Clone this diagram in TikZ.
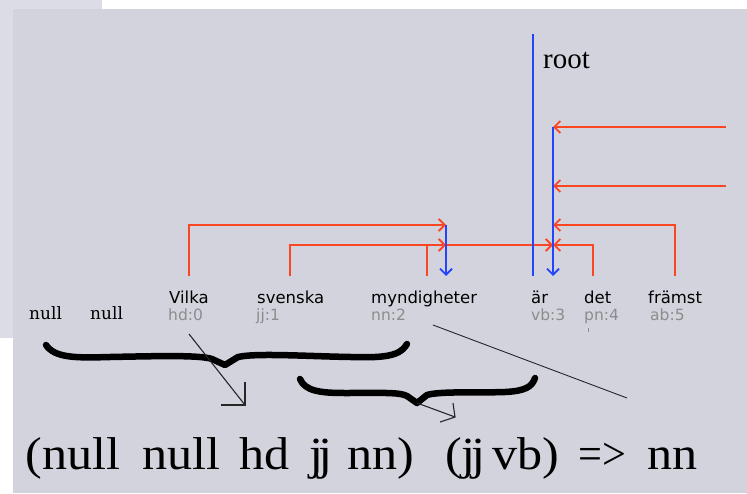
\documentclass[tikz,border=0pt]{standalone}
\usepackage{fontspec}
\setmainfont{Liberation Serif}
\newfontfamily\wordfont{DejaVu Sans}
\newfontfamily\nullwfont{DejaVu Serif}
\newfontfamily\formfont{Liberation Serif}
\usetikzlibrary{arrows.meta}
\definecolor{panel}{RGB}{211,211,222}
\definecolor{panellight}{RGB}{220,220,230}
\definecolor{depred}{RGB}{250,70,35}
\definecolor{headblue}{RGB}{35,70,250}
\definecolor{taggray}{RGB}{140,140,140}
\begin{document}
\begin{tikzpicture}[x=1pt,y=-1pt,
 word/.style={anchor=base west, inner sep=0pt, font=\wordfont\fontsize{16.5}{19}\selectfont, text=black},
 tag/.style={anchor=base west, inner sep=0pt, font=\wordfont\fontsize{15.5}{18}\selectfont, text=taggray},
 nullw/.style={anchor=base west, inner sep=0pt, font=\nullwfont\fontsize{17}{20}\selectfont},
 form/.style={anchor=base west, inner sep=0pt, font=\formfont\fontsize{46}{50}\selectfont},
 rootlbl/.style={anchor=base west, inner sep=0pt, font=\formfont\fontsize{29}{32}\selectfont},
 dep/.style={draw=depred, line width=1.9pt, -{Straight Barb[length=6pt,width=12pt]}},
 headln/.style={draw=headblue, line width=1.9pt},
 headarr/.style={headln, -{Straight Barb[length=6pt,width=12pt]}},
 brace/.style={draw=black, line width=6.5pt, line cap=round, line join=round},
 pointer/.style={draw=black!85, line width=1.1pt},
]
% background
\fill[white] (0,0) rectangle (747,493);
\fill[panellight] (0,0) rectangle (102,338);
\fill[panel] (13,9) rectangle (747,493);
\useasboundingbox (0,0) rectangle (747,493);

% words
\node[nullw] (null1) at (29,319) {null};
\node[nullw] (null2) at (90,319) {null};
\node[word] (vilka) at (169,303) {Vilka};
\node[word] (svenska) at (257,303) {svenska};
\node[word] (mynd) at (371,303) {myndigheter};
\node[word] (ar) at (531,303) {är};
\node[word] (det) at (584,303) {det};
\node[word] (framst) at (648,303) {främst};
\node[tag] (t0) at (168,320) {hd:0};
\node[tag] (t1) at (256,320) {jj:1};
\node[tag] (t2) at (371,320) {nn:2};
\node[tag] (t3) at (531,320) {vb:3};
\node[tag] (t4) at (584,320) {pn:4};
\node[tag] (t5) at (650,320) {ab:5};
\node[rootlbl] (root) at (543,68) {root};

% coordinates
\coordinate (rootTop) at (533,34);
\coordinate (rootFoot) at (533,276);
\coordinate (arTop) at (553,127);
\coordinate (arFoot) at (553,276);
\coordinate (myTop) at (446,225);
\coordinate (myFoot) at (446,276);
\coordinate (offA) at (726,127);
\coordinate (offB) at (726,186);
\coordinate (arB) at (553,186);
\coordinate (arC) at (553,225);
\coordinate (arD) at (553,245);
\coordinate (myD) at (446,245);
\coordinate (vilkaFoot) at (189,276);
\coordinate (svFoot) at (290,276);
\coordinate (myndFoot) at (427,276);
\coordinate (detFoot) at (593,276);
\coordinate (frFoot) at (675,276);

% dependency arcs
\draw[dep] (offA) -- (arTop);
\draw[dep] (offB) -- (arB);
\draw[dep] (frFoot) |- (arC);
\draw[dep] (detFoot) |- (arD);
\draw[dep] (myndFoot) |- (arD);
\draw[dep] (vilkaFoot) |- (myTop);
\draw[dep] (svFoot) |- (myD);

% heads
\draw[headln] (rootTop) -- (rootFoot);
\draw[headarr] (arTop) -- (arFoot);
\draw[headarr] (myTop) -- (myFoot);

% small tick
\coordinate (tickA) at (588,328);
\coordinate (tickB) at (588,332);
\draw[taggray, line width=1pt] (tickA) -- (tickB);

% braces
\draw[brace] (46,345) .. controls (55,358) and (75,358) .. (110,357)
  .. controls (160,356) and (200,355) .. (212,359) -- (225,365) -- (238,357)
  .. controls (260,352) and (330,358) .. (375,357)
  .. controls (395,356) and (402,352) .. (407,344);
\draw[brace] (300,379) .. controls (305,391) and (320,393) .. (345,393)
  .. controls (380,393) and (400,392) .. (407,396) -- (417,403) -- (427,395)
  .. controls (440,391) and (480,393) .. (505,392)
  .. controls (525,391) and (532,387) .. (535,378);

% pointers
\coordinate (p1s) at (189,334);
\coordinate (p1e) at (245,405);
\coordinate (p1a) at (245,382);
\coordinate (p1b) at (221,405);
\draw[pointer] (p1s) -- (p1e);
\draw[pointer] (p1a) -- (p1e) -- (p1b);
\coordinate (p2s) at (417,403);
\coordinate (p2e) at (455,417);
\coordinate (p2a) at (453,403);
\coordinate (p2b) at (440,422);
\draw[pointer] (p2s) -- (p2e);
\draw[pointer] (p2a) -- (p2e) -- (p2b);
\coordinate (p3s) at (433,325);
\coordinate (p3e) at (627,398);
\draw[pointer, line width=0.9pt] (p3s) -- (p3e);

% formula
\node[form] (f1) at (25.5,469) {\scalebox{1.09}[1]{(null}};
\node[form] (f2) at (142,469) {\scalebox{1.09}[1]{null}};
\node[form] (f3) at (239,469) {\scalebox{1.09}[1]{hd}};
\node[form] (f4) at (309,469) {\scalebox{1.09}[1]{j\kern-4pt j}};
\node[form] (f5) at (347,469) {\scalebox{1.09}[1]{nn)}};
\node[form] (f6) at (445,469) {\scalebox{1.09}[1]{(j\kern-4pt j}};
\node[form] (f7) at (492,469) {\scalebox{1.09}[1]{vb)}};
\node[form] (f8) at (578,469) {\scalebox{0.92}[1]{=>}};
\node[form] (f9) at (647,469) {\scalebox{1.09}[1]{nn}};
\end{tikzpicture}
\end{document}
